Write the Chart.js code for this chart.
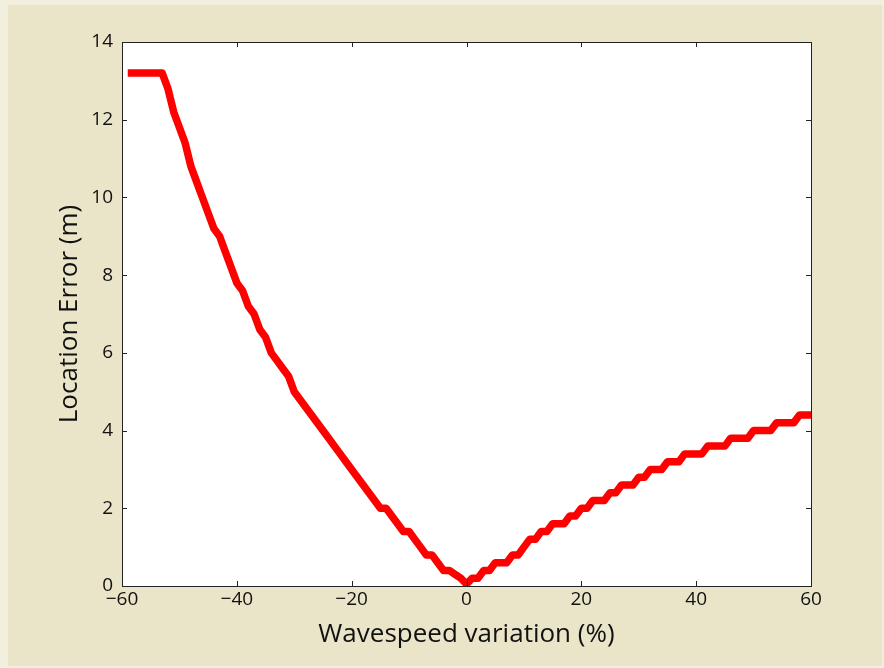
<!DOCTYPE html>
<html>
<head>
<meta charset="utf-8">
<script src="https://cdn.jsdelivr.net/npm/chart.js@4.4.0/dist/chart.umd.min.js"></script>
<style>
  html, body { margin: 0; padding: 0; background: #f2efdf; }
</style>
</head>
<body>
<canvas id="errorChart" width="884" height="668"></canvas>
<script>
"use strict";

// wavespeed variation (%) and the location error
var wavespeedPct = [
  -59, -58, -57, -56, -55, -54, -53, -52, -51, -50,
  -49, -48, -47, -46, -45, -44, -43, -42, -41, -40,
  -39, -38, -37, -36, -35, -34, -33, -32, -31, -30,
  -29, -28, -27, -26, -25, -24, -23, -22, -21, -20,
  -19, -18, -17, -16, -15, -14, -13, -12, -11, -10,
  -9, -8, -7, -6, -5, -4, -3, -2, -1, 0,
  1, 2, 3, 4, 5, 6, 7, 8, 9, 10,
  11, 12, 13, 14, 15, 16, 17, 18, 19, 20,
  21, 22, 23, 24, 25, 26, 27, 28, 29, 30,
  31, 32, 33, 34, 35, 36, 37, 38, 39, 40,
  41, 42, 43, 44, 45, 46, 47, 48, 49, 50,
  51, 52, 53, 54, 55, 56, 57, 58, 59, 60
];
var locationError = [
  13.2, 13.2, 13.2, 13.2, 13.2, 13.2, 13.2, 12.8, 12.2, 11.8,
  11.4, 10.8, 10.4, 10.0, 9.6, 9.2, 9.0, 8.6, 8.2, 7.8,
  7.6, 7.2, 7.0, 6.6, 6.4, 6.0, 5.8, 5.6, 5.4, 5.0,
  4.8, 4.6, 4.4, 4.2, 4.0, 3.8, 3.6, 3.4, 3.2, 3.0,
  2.8, 2.6, 2.4, 2.2, 2.0, 2.0, 1.8, 1.6, 1.4, 1.4,
  1.2, 1.0, 0.8, 0.8, 0.6, 0.4, 0.4, 0.3, 0.2, 0.05,
  0.2, 0.2, 0.4, 0.4, 0.6, 0.6, 0.6, 0.8, 0.8, 1.0,
  1.2, 1.2, 1.4, 1.4, 1.6, 1.6, 1.6, 1.8, 1.8, 2.0,
  2.0, 2.2, 2.2, 2.2, 2.4, 2.4, 2.6, 2.6, 2.6, 2.8,
  2.8, 3.0, 3.0, 3.0, 3.2, 3.2, 3.2, 3.4, 3.4, 3.4,
  3.4, 3.6, 3.6, 3.6, 3.6, 3.8, 3.8, 3.8, 3.8, 4.0,
  4.0, 4.0, 4.0, 4.2, 4.2, 4.2, 4.2, 4.4, 4.4, 4.4
];
var xTickValues = [-60, -40, -20, 0, 20, 40, 60];
var yTickValues = [0, 2, 4, 6, 8, 10, 12, 14];

var fontFamily = "'Open Sans', 'Noto Sans', sans-serif";
var textColor = '#111111';

function minusSign(v) {
  return String(v).replace('-', '\u2212');
}

// beige page, white axes box, and MATLAB style inward ticks on all four sides
var matlabBox = {
  id: 'matlabBox',
  beforeDraw: function(chart) {
    var ctx = chart.ctx;
    var area = chart.chartArea;
    ctx.save();
    ctx.fillStyle = '#f2efdf';
    ctx.fillRect(0, 0, chart.width, chart.height);
    ctx.fillStyle = '#eae5c9';
    ctx.fillRect(8, 5, chart.width - 10, chart.height - 7);
    ctx.fillStyle = '#ffffff';
    ctx.fillRect(area.left, area.top, area.right - area.left, area.bottom - area.top);
    ctx.restore();
  },
  afterDraw: function(chart) {
    var ctx = chart.ctx;
    var area = chart.chartArea;
    var xs = chart.scales.x;
    var ys = chart.scales.y;
    var len = 5;
    ctx.save();
    ctx.strokeStyle = '#222222';
    ctx.lineWidth = 1;
    ctx.beginPath();
    xTickValues.forEach(function(v) {
      var px = Math.round(xs.getPixelForValue(v)) + 0.5;
      ctx.moveTo(px, area.bottom);
      ctx.lineTo(px, area.bottom - len);
      ctx.moveTo(px, area.top);
      ctx.lineTo(px, area.top + len);
    });
    yTickValues.forEach(function(v) {
      var py = Math.round(ys.getPixelForValue(v)) + 0.5;
      ctx.moveTo(area.left, py);
      ctx.lineTo(area.left + len, py);
      ctx.moveTo(area.right, py);
      ctx.lineTo(area.right - len, py);
    });
    ctx.stroke();
    ctx.strokeRect(Math.round(area.left) + 0.5, Math.round(area.top) + 0.5,
      Math.round(area.right - area.left), Math.round(area.bottom - area.top));
    ctx.restore();
  }
};

var points = wavespeedPct.map(function(p, i) {
  return { x: p, y: locationError[i] };
});

var myChart = new Chart(document.getElementById('errorChart'), {
  type: 'line',
  data: {
    datasets: [{
      data: points,
      borderColor: '#ff0000',
      borderWidth: 7.5,
      pointRadius: 0,
      tension: 0,
      fill: false,
      borderJoinStyle: 'round'
    }]
  },
  options: {
    responsive: false,
    animation: false,
    layout: { padding: { top: 42, right: 73, bottom: 0, left: 0 } },
    plugins: {
      legend: { display: false },
      tooltip: { enabled: false }
    },
    scales: {
      x: {
        type: 'linear',
        min: -60,
        max: 60,
        afterBuildTicks: function(scale) {
          scale.ticks = xTickValues.map(function(v) { return { value: v }; });
        },
        afterFit: function(scale) { scale.height = 82; },
        grid: { display: false, drawTicks: false },
        border: { display: false },
        ticks: {
          padding: 2,
          maxRotation: 0,
          color: textColor,
          font: { family: fontFamily, size: 19 },
          callback: function(v) { return minusSign(v); }
        },
        title: {
          display: true,
          text: 'Wavespeed variation (%)',
          color: textColor,
          font: { family: fontFamily, size: 26 },
          padding: { top: 0, bottom: 18 }
        }
      },
      y: {
        type: 'linear',
        min: 0,
        max: 14,
        afterBuildTicks: function(scale) {
          scale.ticks = yTickValues.map(function(v) { return { value: v }; });
        },
        afterFit: function(scale) { scale.width = 122; },
        grid: { display: false, drawTicks: false },
        border: { display: false },
        ticks: {
          padding: 9,
          color: textColor,
          font: { family: fontFamily, size: 19 },
          callback: function(v) { return minusSign(v); }
        },
        title: {
          display: true,
          text: 'Location Error (m)',
          color: textColor,
          font: { family: fontFamily, size: 26 },
          padding: { top: 54, bottom: 0 }
        }
      }
    }
  },
  plugins: [matlabBox]
});
</script>
</body>
</html>
